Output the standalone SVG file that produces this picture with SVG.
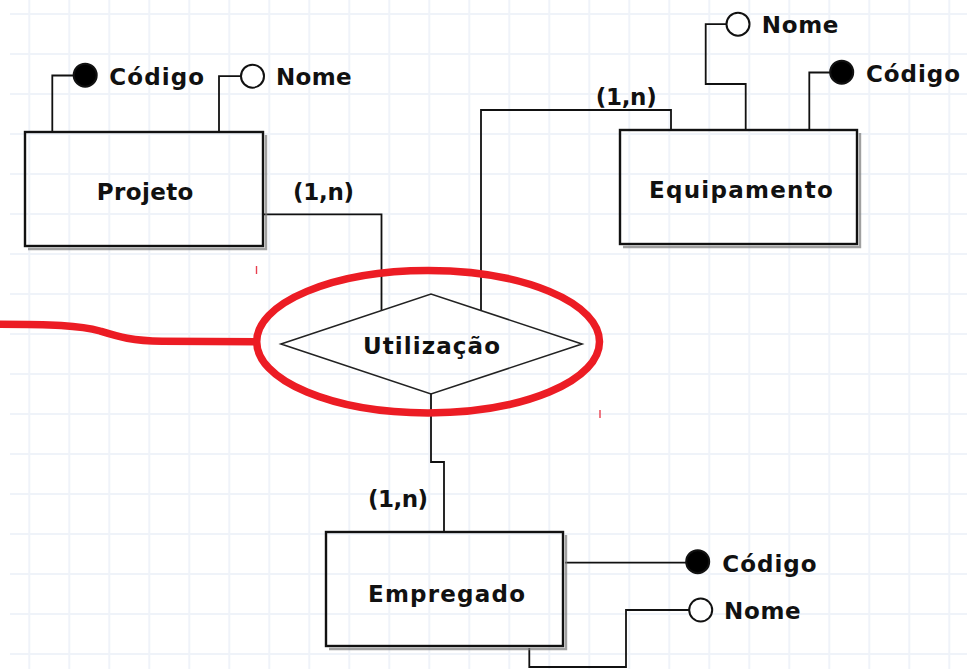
<svg xmlns="http://www.w3.org/2000/svg" width="967" height="669" viewBox="0 0 967 669">
<defs>
<style>
.grid line{stroke:#eff3f9;stroke-width:2}
.box{fill:none;stroke:#111;stroke-width:2.4}
.shadow{fill:none;stroke:#777;stroke-width:2.4;stroke-opacity:0.7}
.ln{fill:none;stroke:#111;stroke-width:1.8}
.dia{fill:none;stroke:#222;stroke-width:1.6}
.key{fill:#000;stroke:#111;stroke-width:2}
.att{fill:#fff;stroke:#111;stroke-width:2}
text{font-family:"DejaVu Sans","Liberation Sans",sans-serif;font-weight:bold;font-size:23px;fill:#111}
.red{fill:none;stroke:#ec1c24;stroke-width:7.5}
.tick{stroke:#e8404f;stroke-width:1.4}
</style>
</defs>
<rect width="967" height="669" fill="#fff"/>
<g class="grid">
<line x1="29.3" y1="0" x2="29.3" y2="669"/><line x1="69.3" y1="0" x2="69.3" y2="669"/><line x1="109.3" y1="0" x2="109.3" y2="669"/><line x1="149.3" y1="0" x2="149.3" y2="669"/><line x1="189.3" y1="0" x2="189.3" y2="669"/><line x1="229.3" y1="0" x2="229.3" y2="669"/><line x1="269.3" y1="0" x2="269.3" y2="669"/><line x1="309.3" y1="0" x2="309.3" y2="669"/><line x1="349.3" y1="0" x2="349.3" y2="669"/><line x1="389.3" y1="0" x2="389.3" y2="669"/><line x1="429.3" y1="0" x2="429.3" y2="669"/><line x1="469.3" y1="0" x2="469.3" y2="669"/><line x1="509.3" y1="0" x2="509.3" y2="669"/><line x1="549.3" y1="0" x2="549.3" y2="669"/><line x1="589.3" y1="0" x2="589.3" y2="669"/><line x1="629.3" y1="0" x2="629.3" y2="669"/><line x1="669.3" y1="0" x2="669.3" y2="669"/><line x1="709.3" y1="0" x2="709.3" y2="669"/><line x1="749.3" y1="0" x2="749.3" y2="669"/><line x1="789.3" y1="0" x2="789.3" y2="669"/><line x1="829.3" y1="0" x2="829.3" y2="669"/><line x1="869.3" y1="0" x2="869.3" y2="669"/><line x1="909.3" y1="0" x2="909.3" y2="669"/><line x1="949.3" y1="0" x2="949.3" y2="669"/>
<line x1="10" y1="14" x2="967" y2="14"/><line x1="10" y1="54" x2="967" y2="54"/><line x1="10" y1="94" x2="967" y2="94"/><line x1="10" y1="134" x2="967" y2="134"/><line x1="10" y1="174" x2="967" y2="174"/><line x1="10" y1="214" x2="967" y2="214"/><line x1="10" y1="254" x2="967" y2="254"/><line x1="10" y1="294" x2="967" y2="294"/><line x1="10" y1="334" x2="967" y2="334"/><line x1="10" y1="374" x2="967" y2="374"/><line x1="10" y1="414" x2="967" y2="414"/><line x1="10" y1="454" x2="967" y2="454"/><line x1="10" y1="494" x2="967" y2="494"/><line x1="10" y1="534" x2="967" y2="534"/><line x1="10" y1="574" x2="967" y2="574"/><line x1="10" y1="614" x2="967" y2="614"/><line x1="10" y1="654" x2="967" y2="654"/>
</g>
<g id="connectors">
<path class="ln" d="M263,214.3 H381.5 V310.7"/>
<path class="ln" d="M671,130 V110 H481 V310.7"/>
<path class="ln" d="M431,394 V462 H444 V532"/>
<path class="ln" d="M52.3,132 V75.5 H73.7"/>
<path class="ln" d="M219,132 V76.2 H241"/>
<path class="ln" d="M745.7,130 V84 H705.7 V24.2 H726.5"/>
<path class="ln" d="M809.3,130 V72.5 H830.2"/>
<path class="ln" d="M565,562.7 H686.2"/>
<path class="ln" d="M529.3,648 V667 H626 V610 H689.2"/>
<text x="293" y="200" textLength="61" lengthAdjust="spacing">(1,n)</text>
<text x="595.7" y="105" textLength="61" lengthAdjust="spacing">(1,n)</text>
<text x="368" y="507" textLength="60" lengthAdjust="spacing">(1,n)</text>
</g>
<g id="projeto">
<polyline class="shadow" points="266,135 266,249 28,249"/>
<rect class="box" x="25" y="132" width="238" height="114"/>
<text x="96.7" y="200" textLength="96.7" lengthAdjust="spacing">Projeto</text>
</g>
<g id="projeto-codigo">
<circle class="key" cx="85.2" cy="75.2" r="11.5"/>
<text x="109.3" y="85" textLength="94.7" lengthAdjust="spacing">Código</text>
</g>
<g id="projeto-nome">
<circle class="att" cx="252.5" cy="76.2" r="11.5"/>
<text x="276" y="85" textLength="75.7" lengthAdjust="spacing">Nome</text>
</g>
<g id="equipamento">
<polyline class="shadow" points="860,133 860,247 623,247"/>
<rect class="box" x="620" y="130" width="237" height="114"/>
<text x="649" y="198.3" textLength="183.7" lengthAdjust="spacing">Equipamento</text>
</g>
<g id="equipamento-nome">
<circle class="att" cx="738" cy="24.2" r="11.5"/>
<text x="761.7" y="33.3" textLength="76.7" lengthAdjust="spacing">Nome</text>
</g>
<g id="equipamento-codigo">
<circle class="key" cx="841.7" cy="72.2" r="11.5"/>
<text x="866" y="81.7" textLength="94" lengthAdjust="spacing">Código</text>
</g>
<g id="utilizacao">
<polygon class="dia" points="281,344 431,294 582,344 431,394"/>
<text x="363" y="354" textLength="137" lengthAdjust="spacing">Utilização</text>
</g>
<g id="empregado">
<polyline class="shadow" points="566,535 566,649 329,649"/>
<rect class="box" x="326" y="532" width="237" height="114"/>
<text x="368" y="601.7" textLength="157" lengthAdjust="spacing">Empregado</text>
</g>
<g id="empregado-codigo">
<circle class="key" cx="697.7" cy="561.7" r="11.5"/>
<text x="722.3" y="571.7" textLength="94.3" lengthAdjust="spacing">Código</text>
</g>
<g id="empregado-nome">
<circle class="att" cx="700.7" cy="610" r="11.5"/>
<text x="724" y="619.3" textLength="76.7" lengthAdjust="spacing">Nome</text>
</g>
<g id="highlight">
<ellipse class="red" cx="428.1" cy="341.7" rx="171.4" ry="71.2"/>
<path class="red" d="M0,324.3 C50,324.3 80,325.5 100,331 C118,336.5 132,341 162,341.2 L257,341.7"/>
<line class="tick" x1="256.5" y1="266" x2="256.5" y2="274"/>
<line class="tick" x1="600" y1="410" x2="600" y2="418"/>
</g>
</svg>
